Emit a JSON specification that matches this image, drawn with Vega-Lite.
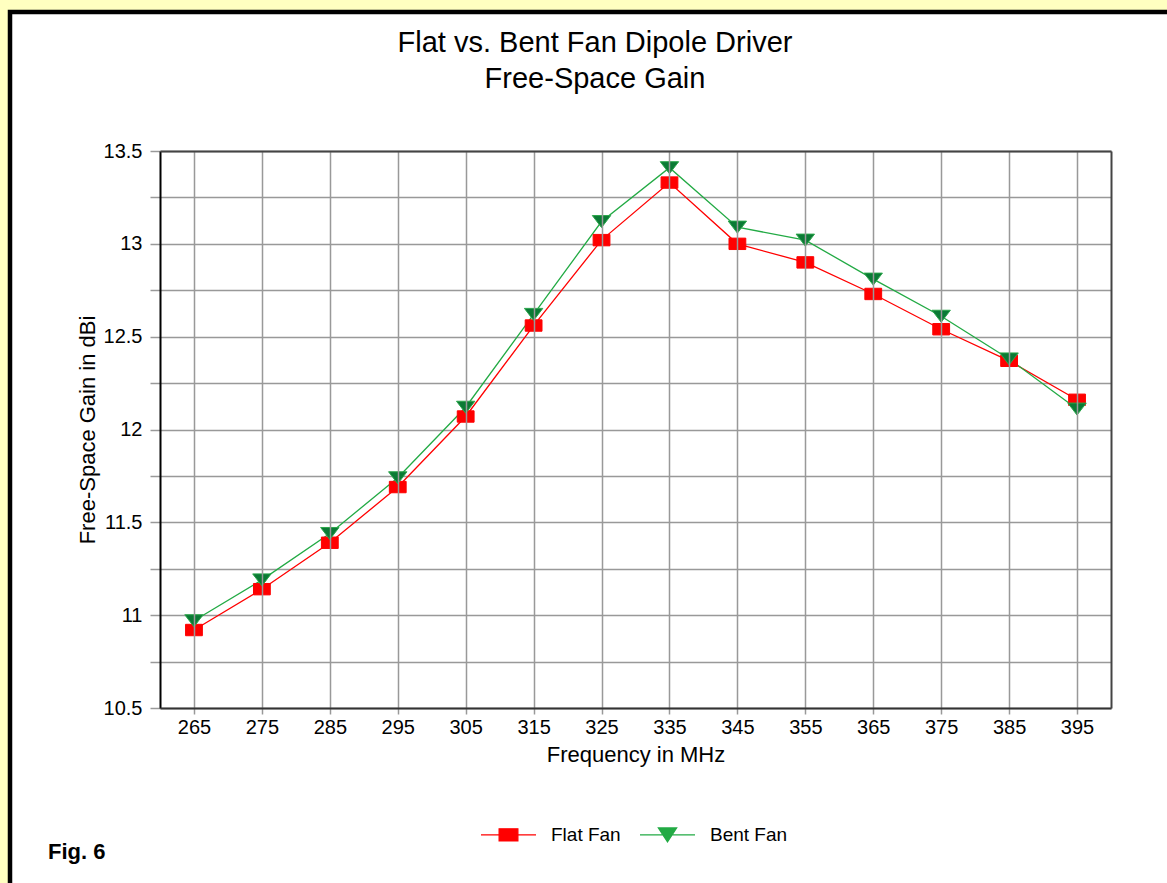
{
  "$schema": "https://vega.github.io/schema/vega-lite/v6.json",
  "width": 1157,
  "height": 871,
  "autosize": {"type": "none"},
  "padding": {"left": 10, "top": 12, "right": 0, "bottom": 0},
  "background": "#ffffc0",
  "view": {
    "fill": "#ffffff",
    "stroke": "#000000",
    "strokeWidth": 4.5,
    "strokeDash": [1157, 2028, 871],
    "strokeCap": "square"
  },
  "title": {
    "text": ["Flat vs. Bent Fan Dipole Driver", "Free-Space Gain"],
    "anchor": "middle",
    "frame": "group",
    "offset": -82,
    "dx": 6.5,
    "fontSize": 29,
    "lineHeight": 36,
    "font": "Liberation Sans",
    "fontWeight": "normal",
    "color": "#000000"
  },
  "config": {
    "font": "Liberation Sans",
    "view": {
      "fill": "#ffffff",
      "stroke": "#000000",
      "strokeWidth": 4.5,
      "strokeDash": [1157, 2028, 871],
      "strokeCap": "square"
    },
    "axis": {
      "labelFont": "Liberation Sans",
      "titleFont": "Liberation Sans",
      "labelColor": "#000000",
      "titleColor": "#000000",
      "labelFontSize": 20,
      "titleFontSize": 22,
      "titleFontWeight": "normal",
      "labelOverlap": false,
      "labelFlush": false
    }
  },
  "data": {
    "values": [
      {"freq": 265, "series": "Flat Fan", "gain": 10.92},
      {"freq": 275, "series": "Flat Fan", "gain": 11.14},
      {"freq": 285, "series": "Flat Fan", "gain": 11.39},
      {"freq": 295, "series": "Flat Fan", "gain": 11.69},
      {"freq": 305, "series": "Flat Fan", "gain": 12.07},
      {"freq": 315, "series": "Flat Fan", "gain": 12.56},
      {"freq": 325, "series": "Flat Fan", "gain": 13.02},
      {"freq": 335, "series": "Flat Fan", "gain": 13.33},
      {"freq": 345, "series": "Flat Fan", "gain": 13.0},
      {"freq": 355, "series": "Flat Fan", "gain": 12.9},
      {"freq": 365, "series": "Flat Fan", "gain": 12.73},
      {"freq": 375, "series": "Flat Fan", "gain": 12.54},
      {"freq": 385, "series": "Flat Fan", "gain": 12.37},
      {"freq": 395, "series": "Flat Fan", "gain": 12.16},
      {"freq": 265, "series": "Bent Fan", "gain": 10.97},
      {"freq": 275, "series": "Bent Fan", "gain": 11.19},
      {"freq": 285, "series": "Bent Fan", "gain": 11.44},
      {"freq": 295, "series": "Bent Fan", "gain": 11.74},
      {"freq": 305, "series": "Bent Fan", "gain": 12.12},
      {"freq": 315, "series": "Bent Fan", "gain": 12.62},
      {"freq": 325, "series": "Bent Fan", "gain": 13.12},
      {"freq": 335, "series": "Bent Fan", "gain": 13.41},
      {"freq": 345, "series": "Bent Fan", "gain": 13.09},
      {"freq": 355, "series": "Bent Fan", "gain": 13.02},
      {"freq": 365, "series": "Bent Fan", "gain": 12.81},
      {"freq": 375, "series": "Bent Fan", "gain": 12.61},
      {"freq": 385, "series": "Bent Fan", "gain": 12.38},
      {"freq": 395, "series": "Bent Fan", "gain": 12.11}
    ]
  },
  "layer": [
    {
      "mark": {"type": "line", "strokeWidth": 1.3},
      "encoding": {
        "x": {
          "field": "freq",
          "type": "quantitative",
          "scale": {"domain": [260, 400], "range": [150, 1101], "nice": false, "zero": false},
          "axis": {
            "orient": "bottom",
            "offset": -175,
            "values": [265, 275, 285, 295, 305, 315, 325, 335, 345, 355, 365, 375, 385, 395],
            "grid": false,
            "domainColor": "#333333",
            "domainWidth": 2,
            "tickColor": "#999999",
            "tickSize": 6,
            "tickWidth": 1.5,
            "labelPadding": 3,
            "title": "Frequency in MHz",
            "titlePadding": 7,
            "zindex": 1
          }
        },
        "y": {
          "field": "gain",
          "type": "quantitative",
          "scale": {"domain": [10.5, 13.5], "range": [696, 139], "nice": false, "zero": false},
          "axis": {
            "orient": "left",
            "offset": -150,
            "values": [10.5, 10.75, 11, 11.25, 11.5, 11.75, 12, 12.25, 12.5, 12.75, 13, 13.25, 13.5],
            "labelExpr": "datum.value * 2 == round(datum.value * 2) ? '' + datum.value : ''",
            "grid": true,
            "gridColor": "#999999",
            "gridWidth": 1.5,
            "domainColor": "#000000",
            "domainWidth": 2,
            "tickColor": "#999999",
            "tickSize": 10,
            "tickWidth": 1.5,
            "labelPadding": 8,
            "title": "Free-Space Gain in dBi",
            "titlePadding": 4
          }
        },
        "color": {
          "field": "series",
          "type": "nominal",
          "scale": {"domain": ["Flat Fan", "Bent Fan"], "range": ["#ff0000", "#22aa44"]},
          "legend": {
            "orient": "none",
            "legendX": 38,
            "legendY": 794,
            "direction": "horizontal",
            "padding": 0,
            "title": "Fig. 6",
            "titleOrient": "left",
            "titleAnchor": "end",
            "titleBaseline": "bottom",
            "titleFontSize": 22,
            "titleFontWeight": "bold",
            "titleColor": "#000000",
            "titlePadding": 374,
            "symbolSize": 3025,
            "symbolStrokeWidth": 1.3,
            "labelFontSize": 19,
            "labelColor": "#000000",
            "labelOffset": 14,
            "columnPadding": 16
          }
        }
      }
    },
    {
      "transform": [{"filter": "datum.series === 'Flat Fan'"}],
      "mark": {"type": "point", "shape": "M-0.84,-0.57L0.84,-0.57L0.84,0.57L-0.84,0.57Z", "filled": true, "fill": "#ff0000", "stroke": "#ff0000", "size": 400, "opacity": 1, "strokeWidth": 1},
      "encoding": {
        "x": {
          "field": "freq",
          "type": "quantitative",
          "axis": {
            "orient": "top",
            "offset": -139,
            "values": [265, 275, 285, 295, 305, 315, 325, 335, 345, 355, 365, 375, 385, 395],
            "grid": true,
            "gridColor": "#999999",
            "gridWidth": 1.5,
            "labels": false,
            "ticks": false,
            "domainColor": "#444444",
            "domainWidth": 2,
            "title": null,
            "zindex": 1
          }
        },
        "y": {
          "field": "gain",
          "type": "quantitative",
          "axis": {
            "orient": "right",
            "offset": -56,
            "grid": false,
            "labels": false,
            "ticks": false,
            "domainColor": "#444444",
            "domainWidth": 2,
            "title": null,
            "zindex": 1
          }
        }
      }
    },
    {
      "transform": [{"filter": "datum.series === 'Bent Fan'"}],
      "mark": {"type": "point", "shape": "M-0.92,-0.6L0.92,-0.6L0,0.6Z", "filled": true, "fill": "#0b7a35", "stroke": "#2aa64a", "size": 400, "opacity": 1, "strokeWidth": 1},
      "encoding": {
        "x": {"field": "freq", "type": "quantitative", "axis": null},
        "y": {"field": "gain", "type": "quantitative", "axis": null}
      }
    },
    {
      "transform": [{"filter": "false"}],
      "mark": {"type": "point", "filled": true, "opacity": 1},
      "encoding": {
        "x": {"field": "freq", "type": "quantitative", "axis": null},
        "y": {"field": "gain", "type": "quantitative", "axis": null},
        "shape": {
          "field": "series",
          "type": "nominal",
          "scale": {"domain": ["Flat Fan", "Bent Fan"], "range": ["M-1,0L1,0M-0.34,-0.22L0.34,-0.22L0.34,0.22L-0.34,0.22ZM0,0.95", "M-1,0L1,0M-0.33,-0.25L0.33,-0.25L0,0.25ZM0,0.95"]},
          "legend": null
        },
        "color": {
          "field": "series",
          "type": "nominal",
          "legend": null
        }
      }
    }
  ]
}
